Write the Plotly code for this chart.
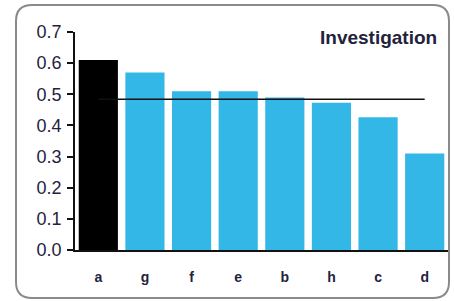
import plotly.graph_objects as go

categories = ["a", "g", "f", "e", "b", "h", "c", "d"]
values = [0.61, 0.57, 0.51, 0.51, 0.49, 0.473, 0.426, 0.31]
reference_value = 0.484
title_text = "Investigation"

W, H = 454, 301
ML, MR, MT, MB = 75, 6, 32, 51
PW, PH = W - ML - MR, H - MT - MB

def px(x):
    return (x - ML) / PW

def py(y):
    return (H - MB - y) / PH

# rounded frame
L, R, T, B, r = 16, 449, 5, 298, 16
path = (
    f"M {px(L + r)},{py(T)} L {px(R - r)},{py(T)} "
    f"Q {px(R)},{py(T)} {px(R)},{py(T + r)} "
    f"L {px(R)},{py(B - r)} Q {px(R)},{py(B)} {px(R - r)},{py(B)} "
    f"L {px(L + r)},{py(B)} Q {px(L)},{py(B)} {px(L)},{py(B - r)} "
    f"L {px(L)},{py(T + r)} Q {px(L)},{py(T)} {px(L + r)},{py(T)} Z"
)

colors = ["#000000"] + ["#33B7E7"] * (len(categories) - 1)

fig = go.Figure()
fig.add_trace(go.Bar(x=categories, y=values, marker=dict(color=colors, line=dict(width=0)),
                     showlegend=False))
fig.add_trace(go.Scatter(x=[categories[0], categories[-1]], y=[reference_value] * 2,
                         mode="lines", line=dict(color="#111111", width=1.5), showlegend=False))

fig.update_layout(
    width=W, height=H,
    margin=dict(l=ML, r=MR, t=MT, b=MB),
    paper_bgcolor="white", plot_bgcolor="white",
    bargap=0.16,
    font=dict(family="Liberation Sans, Arial", color="#1f2340"),
    shapes=[dict(type="path", path=path, xref="paper", yref="paper",
                 line=dict(color="#8a8a8a", width=2), layer="below")],
    annotations=[dict(text=f"<b>{title_text}</b>", x=px(439), y=py(38), xref="paper", yref="paper",
                      xanchor="right", yanchor="middle", showarrow=False,
                      font=dict(size=19, color="#22223a", family="Liberation Sans, Arial"))],
)
fig.update_yaxes(range=[0, 0.7], dtick=0.1, tickformat=".1f", showgrid=False, zeroline=False,
                 showline=True, linecolor="#111111", linewidth=1.5, ticks="outside", ticklen=6,
                 tickcolor="#111111", tickwidth=1.5, tickfont=dict(size=18), ticklabelstandoff=2)
fig.update_xaxes(showgrid=False, showline=True, linecolor="#111111", linewidth=1.5, ticks="",
                 tickfont=dict(size=14, weight="bold"), ticklabelstandoff=13, range=[-0.5, 7.5])

fig.write_html("out.html", config={"displayModeBar": False},
               post_script="document.body.style.margin='0';")
